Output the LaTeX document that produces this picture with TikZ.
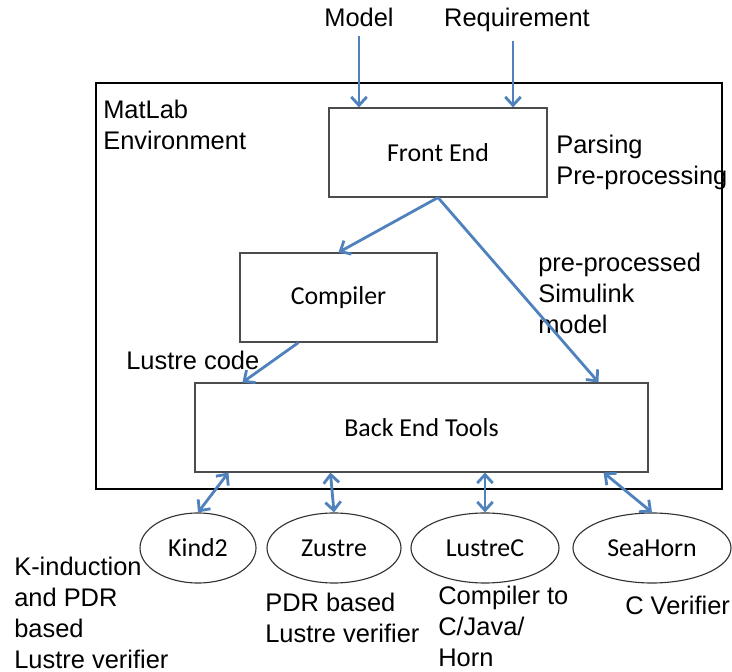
\documentclass[tikz,border=0pt]{standalone}
\usepackage{fontspec}
\setmainfont{Liberation Sans}
\newfontfamily\boxfont{Carlito}
\usetikzlibrary{arrows.meta,shapes.geometric}
\definecolor{flowblue}{RGB}{79,129,189}
\tikzset{
  block/.style={draw=black!70,thick,minimum height=2.225cm,font=\boxfont\fontsize{18.4}{22}\selectfont},
  tool/.style={ellipse,draw=black!80,thick,inner sep=0pt,minimum height=1.75cm,font=\boxfont\fontsize{18.4}{22}\selectfont},
  note/.style={align=left,inner sep=0pt,font=\fontsize{18.1}{22}\selectfont},
  flow/.style={-{Straight Barb[length=6pt,width=11pt]},flowblue,line width=2pt},
  both/.style={{Straight Barb[length=6pt,width=11pt]}-{Straight Barb[length=6pt,width=11pt]},flowblue,line width=2pt}
}
\begin{document}
\begin{tikzpicture}
  \useasboundingbox (0,0) rectangle (18.3,16.8);

  %environment
  \draw[line width=2pt](2.4,4.575) rectangle (18.05,14.725);
  \node[note,anchor=west] (env) at (2.575,13.675) {MatLab\\Environment};

  %inputs
  \node[note,anchor=base] (model) at (8.975,16.125) {Model};
  \node[note,anchor=base] (req) at (12.925,16.125) {Requirement};

  %blocks
  \node[block,minimum width=5.45cm] (fe) at (10.95,12.9875) {Front End};
  \node[block,minimum width=4.925cm] (cmp) at (8.4625,9.3625) {Compiler};
  \node[block,minimum width=11.325cm] (be) at (10.5375,6.1125) {Back End Tools};

  %tools
  \node[tool,minimum width=2.9cm] (kind) at (4.95,3.1) {Kind2};
  \node[tool,minimum width=3.35cm] (zus) at (8.35,3.1) {Zustre};
  \node[tool,minimum width=3.7cm] (lc) at (12.125,3.1) {LustreC};
  \node[tool,minimum width=3.95cm] (sea) at (16.3,3.1) {SeaHorn};

  %labels
  \node[note,anchor=west] (parse) at (13.9,12.7375) {Parsing\\Pre-processing};
  \node[note,anchor=west] (pre) at (13.45,9.475) {pre-processed\\Simulink\\model};
  \node[note,anchor=west] (lus) at (3.15,7.8) {Lustre code};
  \node[note,anchor=west] (kindtxt) at (0.35,1.475) {K-induction\\and PDR\\based\\Lustre verifier};
  \node[note,anchor=west] (zustxt) at (6.625,1.3625) {PDR based\\Lustre verifier};
  \node[note,anchor=west] (lctxt) at (10.95,1.15) {Compiler to\\C/Java/\\Horn};
  \node[note,anchor=west] (seatxt) at (15.625,1.675) {C Verifier};

  %input arrows
  \draw [flow,shorten <=6pt] (model.south) -- (model.south |- fe.north);
  \draw [flow,shorten <=6pt] ([xshift=-0.1cm]req.south) -- ([xshift=-0.1cm]req.south |- fe.north);

  %inner arrows
  \draw [flow] (fe.south) -- (cmp.north);
  \draw [flow] (fe.south) -- ([xshift=-1.25cm]be.north east);
  \draw [flow] ([xshift=-1cm]cmp.south) -- ([xshift=1.2cm]be.north west);

  %tool arrows
  \draw [both] ([xshift=0.85cm]be.south west) -- (kind.north);
  \draw [both] ([xshift=3.4cm]be.south west) -- (zus.north);
  \draw [both] (lc.north |- be.south) -- (lc.north);
  \draw [both] ([xshift=-1.125cm]be.south east) -- (sea.north);

\end{tikzpicture}
\end{document}
